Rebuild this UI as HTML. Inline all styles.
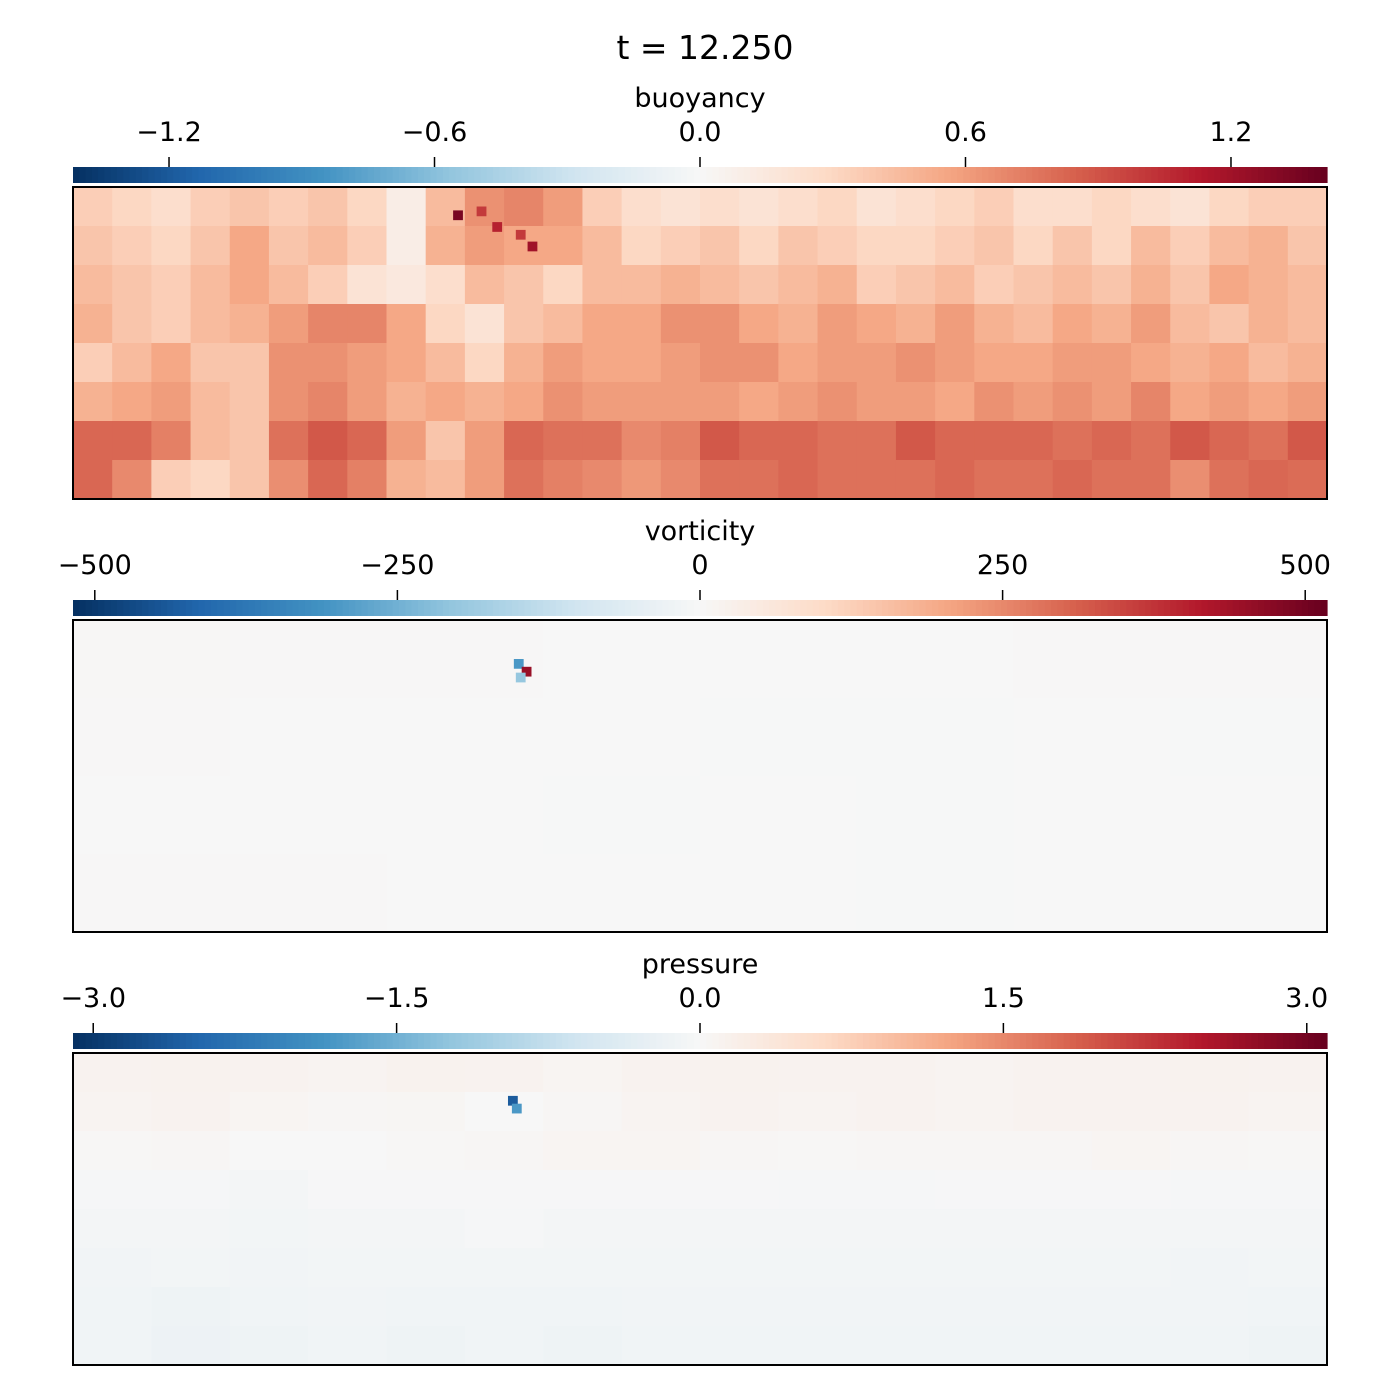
<!DOCTYPE html>
<html><head><meta charset="utf-8"><style>
html,body{margin:0;padding:0;background:#fff;}
svg{display:block;font-family:"DejaVu Sans","Liberation Sans",sans-serif;}
</style></head><body>
<svg id="fig" width="1400" height="1400" viewBox="0 0 1400 1400" xmlns="http://www.w3.org/2000/svg">
<text x="705" y="59" font-size="33" text-anchor="middle">t = 12.250</text>
</svg>
<script>
// ---- data ----
const buoyancyTicks = [-1.2, -0.6, 0.0, 0.6, 1.2];
const buoyancyTickLabels = ["\u22121.2", "\u22120.6", "0.0", "0.6", "1.2"];
const vorticityTicks = [-500, -250, 0, 250, 500];
const vorticityTickLabels = ["\u2212500", "\u2212250", "0", "250", "500"];
const pressureTicks = [-3.0, -1.5, 0.0, 1.5, 3.0];
const pressureTickLabels = ["\u22123.0", "\u22121.5", "0.0", "1.5", "3.0"];
const buoyancyRange = [-1.417, 1.417];
const vorticityRange = [-518, 518];
const pressureRange = [-3.1, 3.1];
// buoyancy grid (x0.01), 8 rows x 32 cols, top row first
const buoyancyGrid = [
[35,30,25,35,40,35,40,30,10,45,65,70,60,35,25,20,25,20,25,30,20,25,30,35,25,25,30,25,20,30,35,35],
[40,35,30,40,55,40,45,35,10,50,60,55,55,45,30,35,40,30,40,35,30,30,35,40,30,40,30,45,35,45,50,40],
[45,40,35,45,55,45,35,20,15,25,45,40,30,45,45,50,45,40,45,50,35,40,45,35,40,45,40,50,40,55,50,45],
[50,40,35,45,50,60,70,70,55,30,20,40,45,55,55,65,65,55,50,60,55,50,60,50,45,55,50,60,45,40,50,45],
[35,45,55,40,40,65,65,60,55,45,30,50,60,55,55,60,65,65,55,60,60,65,60,55,55,60,60,55,50,55,45,50],
[50,55,60,45,40,65,70,60,50,55,50,55,65,60,60,60,60,55,60,65,60,60,55,65,60,65,60,70,55,60,55,60],
[82,82,72,45,40,78,88,82,60,40,60,82,78,78,68,72,88,82,82,78,78,88,82,82,82,78,82,78,88,82,78,88],
[82,68,35,30,40,66,82,72,50,45,60,78,72,68,62,68,78,78,82,78,78,78,82,78,78,82,78,78,66,78,82,80]];
// buoyancy hot spots: [col, row, value] in grid units (fractional)
const buoyancySpots = [[9.7,0.6,1.35],[10.3,0.5,1.0],[10.7,0.9,1.1],[11.3,1.1,1.0],[11.6,1.4,1.2]];
// vorticity grid 4 rows x 8 cols (nearly zero)
const vorticityGrid = [
[4,2,2,1,0,1,2,2],
[2,0,-1,-1,-2,-2,-1,-2],
[1,1,0,-2,-1,-2,-1,0],
[3,2,1,-1,1,-2,-1,1]];
// vorticity spots: [col, row, value] in 32x8 grid units
const vorticitySpots = [[11.25,1.0,-300],[11.45,1.2,450],[11.3,1.35,-200]];
// pressure grid 8 rows x 16 cols
const pressureGrid = [
[0.10,0.12,0.10,0.08,0.12,0.10,0.06,0.10,0.12,0.10,0.10,0.08,0.10,0.10,0.12,0.10],
[0.08,0.10,0.06,0.04,0.05,0.00,0.04,0.08,0.10,0.08,0.10,0.08,0.10,0.10,0.10,0.08],
[0.02,0.04,0.00,0.00,0.02,0.04,0.06,0.06,0.04,0.02,0.04,0.04,0.04,0.06,0.04,0.02],
[-0.04,-0.04,-0.06,-0.02,-0.02,-0.02,-0.02,-0.02,-0.02,-0.04,-0.04,-0.02,-0.02,-0.02,-0.04,-0.04],
[-0.06,-0.06,-0.08,-0.06,-0.06,-0.04,-0.06,-0.06,-0.06,-0.06,-0.06,-0.06,-0.06,-0.06,-0.06,-0.06],
[-0.10,-0.08,-0.10,-0.08,-0.08,-0.08,-0.08,-0.08,-0.08,-0.08,-0.08,-0.08,-0.08,-0.08,-0.10,-0.08],
[-0.12,-0.14,-0.12,-0.10,-0.12,-0.12,-0.12,-0.10,-0.10,-0.10,-0.10,-0.10,-0.10,-0.10,-0.10,-0.12],
[-0.12,-0.16,-0.14,-0.12,-0.14,-0.12,-0.14,-0.12,-0.12,-0.12,-0.12,-0.12,-0.12,-0.12,-0.12,-0.14]];
// pressure spots: [col, row, value] in 32x8 grid units
const pressureSpots = [[11.1,1.1,-2.6],[11.2,1.3,-1.8]];

// ---- colormap RdBu_r ----
const cmapStops = ["#053061","#2166ac","#4393c3","#92c5de","#d1e5f0","#f7f7f7","#fddbc7","#f4a582","#d6604d","#b2182b","#67001f"];
function hex(h){return [parseInt(h.slice(1,3),16),parseInt(h.slice(3,5),16),parseInt(h.slice(5,7),16)];}
function cmap(t){
  t=Math.max(0,Math.min(1,t));
  const p=t*(cmapStops.length-1);const i=Math.min(Math.floor(p),cmapStops.length-2);const f=p-i;
  const a=hex(cmapStops[i]),b=hex(cmapStops[i+1]);
  return "rgb("+a.map((v,k)=>Math.round(v+(b[k]-v)*f)).join(",")+")";
}
const NS="http://www.w3.org/2000/svg";
const svg=document.getElementById("fig");
function el(tag,attrs,parent){const e=document.createElementNS(NS,tag);for(const k in attrs)e.setAttribute(k,attrs[k]);(parent||svg).appendChild(e);return e;}
const X0=73,X1=1327;

function panel(name,top,range,ticks,labels,grid,spots,scale){
  const g=el("g",{});
  
  
  const sx=v=>X0+(v-range[0])/(range[1]-range[0])*(X1-X0);
  const cbTop=top+80, cbH=16, hmTop=top+100, hmH=312;
  const lab=el("text",{x:700,y:top+20,"font-size":"27","text-anchor":"middle"},g);
  lab.textContent=name;
  
  
  const N=200;const cw=(X1-X0)/N;
  for(let i=0;i<N;i++){
    const r=el("rect",{x:X0+i*cw,y:cbTop,width:cw+0.6,height:cbH,fill:cmap((i+0.5)/N)},g);
    
    
  }
  ticks.forEach((t,i)=>{
    const x=sx(t);
    const tl=el("line",{x1:x,x2:x,y1:cbTop-10,y2:cbTop,stroke:"#000","stroke-width":"1.5"},g);
    
    
    const tx=el("text",{x:x,y:cbTop-26,"font-size":"27","text-anchor":"middle"},g);
    tx.textContent=labels[i];
    
    
  });
  const rows=grid.length,cols=grid[0].length;
  const w=(X1-X0)/cols,h=hmH/rows;
  const ct=v=>(v*scale-range[0])/(range[1]-range[0]);
  grid.forEach((row,r)=>row.forEach((v,c)=>{
    const cell=el("rect",{x:X0+c*w,y:hmTop+r*h,width:w+0.5,height:h+0.5,fill:cmap(ct(v))},g);
    
    
  }));
  const sw=(X1-X0)/32/4, sh=hmH/8/4;
  spots.forEach(s=>{
    const sp=el("rect",{x:X0+s[0]*(X1-X0)/32,y:hmTop+s[1]*hmH/8,width:sw,height:sh,fill:cmap((s[2]-range[0])/(range[1]-range[0]))},g);
    
    
  });
  const fr=el("rect",{x:X0,y:hmTop,width:X1-X0,height:hmH,fill:"none",stroke:"#000","stroke-width":"2"},g);
  
  
}
panel("buoyancy",87,buoyancyRange,buoyancyTicks,buoyancyTickLabels,buoyancyGrid,buoyancySpots,0.01);
panel("vorticity",520,vorticityRange,vorticityTicks,vorticityTickLabels,vorticityGrid,vorticitySpots,1);
panel("pressure",953,pressureRange,pressureTicks,pressureTickLabels,pressureGrid,pressureSpots,1);
</script>
</body></html>
